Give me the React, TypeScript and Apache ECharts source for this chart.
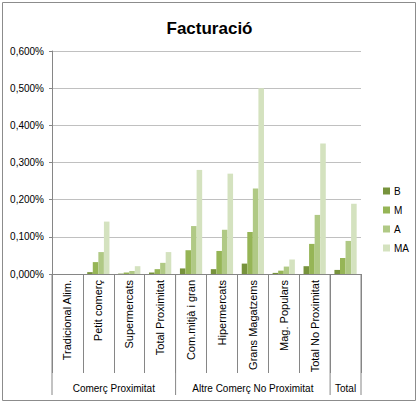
import React, { useEffect, useRef } from "react";
import * as echarts from "echarts";

const categories = [
  "Tradicional Alim.",
  "Petit comerç",
  "Supermercats",
  "Total Proximitat",
  "Com.mitjà i gran",
  "Hipermercats",
  "Grans Magatzems",
  "Mag. Populars",
  "Total No Proximitat",
  "",
];

const groups = [
  { name: "Comerç Proximitat", start: 0, end: 4 },
  { name: "Altre Comerç No Proximitat", start: 4, end: 9 },
  { name: "Total", start: 9, end: 10 },
];

const seriesNames = ["B", "M", "A", "MA"];
const valuesB = [0, 0.005, 0.001, 0.004, 0.015, 0.013, 0.028, 0.003, 0.021, 0.011];
const valuesM = [0, 0.032, 0.004, 0.013, 0.064, 0.062, 0.113, 0.009, 0.081, 0.043];
const valuesA = [0, 0.059, 0.008, 0.03, 0.129, 0.119, 0.23, 0.02, 0.159, 0.089];
const valuesMA = [0, 0.141, 0.021, 0.059, 0.28, 0.27, 0.5, 0.039, 0.351, 0.189];
const colors = ["#77933C", "#96B556", "#B0C985", "#D4E2BF"];

const yTicks = { min: 0, max: 0.6, interval: 0.1 };

const FONT = "Liberation Sans";

export default function App() {
  const ref = useRef<HTMLDivElement>(null);
  useEffect(() => {
    if (!ref.current) return;
    const chart = echarts.init(ref.current, undefined, { renderer: "svg" });
    const data = [valuesB, valuesM, valuesA, valuesMA];
    const option: any = {
      animation: false,
      textStyle: { fontFamily: FONT },
      title: {
        text: "Facturació",
        left: "center",
        top: 15,
        textStyle: { fontSize: 17, fontWeight: "bold", color: "#000", fontFamily: FONT },
      },
      legend: {
        orient: "vertical",
        left: 378,
        top: 181,
        itemWidth: 7,
        itemHeight: 7,
        itemGap: 9,
        icon: "rect",
        textStyle: { fontSize: 10, color: "#000", fontFamily: FONT, padding: [0, 0, 0, -1] },
        data: seriesNames,
      },
      grid: { left: 52, right: 58, top: 51, bottom: 132, containLabel: false },
      xAxis: {
        type: "category",
        data: categories,
        axisLine: { show: true, lineStyle: { color: "#868686", width: 1 } },
        axisTick: { show: true, length: 99, lineStyle: { color: "#868686" } },
        axisLabel: {
          rotate: 90,
          interval: 0,
          margin: 6,
          fontSize: 11,
          color: "#000",
          fontFamily: FONT,
        },
      },
      yAxis: {
        type: "value",
        min: yTicks.min,
        max: yTicks.max,
        interval: yTicks.interval,
        axisLine: { show: true, lineStyle: { color: "#868686" } },
        axisTick: { show: true, length: 3, lineStyle: { color: "#868686" } },
        splitLine: { show: true, lineStyle: { color: "#C0C0C0", width: 1 } },
        axisLabel: {
          fontSize: 10,
          color: "#000",
          margin: 8,
          fontFamily: FONT,
          formatter: (v: number) => v.toFixed(3).replace(".", ",") + "%",
        },
      },
      series: seriesNames.map((n, i) => ({
        name: n,
        type: "bar",
        data: data[i],
        barGap: "0%",
        barCategoryGap: "28%",
        itemStyle: { color: colors[i] },
      })),
    };
    chart.setOption(option);

    const c0 = chart.convertToPixel({ xAxisIndex: 0 }, 0) as number;
    const c1 = chart.convertToPixel({ xAxisIndex: 0 }, 1) as number;
    const band = c1 - c0;
    const bx = (i: number) => c0 + (i - 0.5) * band;
    const base = chart.convertToPixel({ yAxisIndex: 0 }, 0) as number;
    const bounds = new Set<number>();
    groups.forEach((g) => {
      bounds.add(g.start);
      bounds.add(g.end);
    });
    const graphics: any[] = [
      {
        type: "rect",
        shape: { x: 2.5, y: 2.5, width: 413, height: 398 },
        style: { fill: "none", stroke: "#8C8C8C", lineWidth: 1 },
        silent: true,
      },
    ];
    Array.from(bounds).forEach((b) => {
      graphics.push({
        type: "line",
        shape: { x1: bx(b), y1: base, x2: bx(b), y2: base + 121 },
        style: { stroke: "#868686", lineWidth: 1 },
        silent: true,
      });
    });
    groups.forEach((g) => {
      graphics.push({
        type: "text",
        x: (bx(g.start) + bx(g.end)) / 2,
        y: base + 114,
        style: {
          text: g.name,
          fontSize: 10,
          fontFamily: FONT,
          fill: "#000",
          align: "center",
          verticalAlign: "middle",
        },
        silent: true,
      });
    });
    chart.setOption({ graphic: graphics });

    return () => chart.dispose();
  }, []);
  return (
    <div
      ref={ref}
      style={{ position: "absolute", left: 0, top: 0, width: 419, height: 406, background: "#fff" }}
    />
  );
}
